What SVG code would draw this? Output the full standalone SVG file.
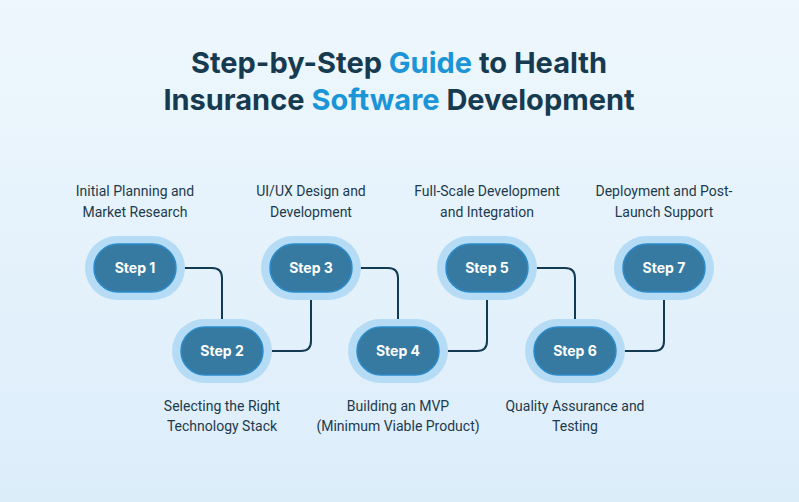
<svg xmlns="http://www.w3.org/2000/svg" width="799" height="502" viewBox="0 0 799 502">
<defs>
<linearGradient id="bg" x1="0" y1="0" x2="0" y2="1"><stop offset="0" stop-color="#eef7fd"/><stop offset="1" stop-color="#dcedfa"/></linearGradient>
<marker id="ah" viewBox="0 0 10 10" refX="9" refY="5" markerWidth="9" markerHeight="9" markerUnits="userSpaceOnUse" orient="auto"><path d="M0,0 L10,5 L0,10 z" fill="#123a52"/></marker>
</defs>
<style>
.halo{fill:#b5dcf4}
.pill{fill:#367aa1;stroke:#2a8ccc;stroke-width:1.5}
.st{font-family:Inter,"Noto Sans",sans-serif;font-weight:700;font-size:14px;fill:#fff;text-anchor:middle}
.lb{font-family:Roboto,"Noto Sans",sans-serif;font-size:14px;fill:#1c3a4d;text-anchor:middle}
.ti{font-family:Inter,"Noto Sans",sans-serif;font-weight:700;font-size:29px;fill:#163a50;text-anchor:middle}
.c{fill:none;stroke:#123a52;stroke-width:2;marker-end:url(#ah)}
</style>
<rect width="799" height="502" fill="url(#bg)"/>
<text class="ti" x="399" y="73">Step-by-Step <tspan fill="#1b95d6">Guide</tspan> to Health</text>
<text class="ti" x="399" y="110">Insurance <tspan fill="#1b95d6">Software</tspan> Development</text>
<g id="connectors">
<path class="c" d="M178,268 H212 Q222,268 222,278 V327"/>
<path class="c" d="M265,351 H301 Q311,351 311,341 V292"/>
<path class="c" d="M354,268 H388 Q398,268 398,278 V327"/>
<path class="c" d="M441,351 H477 Q487,351 487,341 V292"/>
<path class="c" d="M530,268 H565 Q575,268 575,278 V327"/>
<path class="c" d="M618,351 H654 Q664,351 664,341 V292"/>
</g>
<g id="step1"><rect class="halo" x="85" y="236" width="100" height="64" rx="32"/><rect class="pill" x="94" y="244" width="82" height="48" rx="24"/><text class="st" x="135" y="273">Step 1</text><text class="lb" x="135" y="196">Initial Planning and</text><text class="lb" x="135" y="217">Market Research</text></g>
<g id="step2"><rect class="halo" x="172" y="319" width="100" height="64" rx="32"/><rect class="pill" x="181" y="327" width="82" height="48" rx="24"/><text class="st" x="222" y="356">Step 2</text><text class="lb" x="222" y="411">Selecting the Right</text><text class="lb" x="222" y="431">Technology Stack</text></g>
<g id="step3"><rect class="halo" x="261" y="236" width="100" height="64" rx="32"/><rect class="pill" x="270" y="244" width="82" height="48" rx="24"/><text class="st" x="311" y="273">Step 3</text><text class="lb" x="311" y="196">UI/UX Design and</text><text class="lb" x="311" y="217">Development</text></g>
<g id="step4"><rect class="halo" x="348" y="319" width="100" height="64" rx="32"/><rect class="pill" x="357" y="327" width="82" height="48" rx="24"/><text class="st" x="398" y="356">Step 4</text><text class="lb" x="398" y="411">Building an MVP</text><text class="lb" x="398" y="431">(Minimum Viable Product)</text></g>
<g id="step5"><rect class="halo" x="437" y="236" width="100" height="64" rx="32"/><rect class="pill" x="446" y="244" width="82" height="48" rx="24"/><text class="st" x="487" y="273">Step 5</text><text class="lb" x="487" y="196">Full-Scale Development</text><text class="lb" x="487" y="217">and Integration</text></g>
<g id="step6"><rect class="halo" x="525" y="319" width="100" height="64" rx="32"/><rect class="pill" x="534" y="327" width="82" height="48" rx="24"/><text class="st" x="575" y="356">Step 6</text><text class="lb" x="575" y="411">Quality Assurance and</text><text class="lb" x="575" y="431">Testing</text></g>
<g id="step7"><rect class="halo" x="614" y="236" width="100" height="64" rx="32"/><rect class="pill" x="623" y="244" width="82" height="48" rx="24"/><text class="st" x="664" y="273">Step 7</text><text class="lb" x="664" y="196">Deployment and Post-</text><text class="lb" x="664" y="217">Launch Support</text></g>
</svg>
